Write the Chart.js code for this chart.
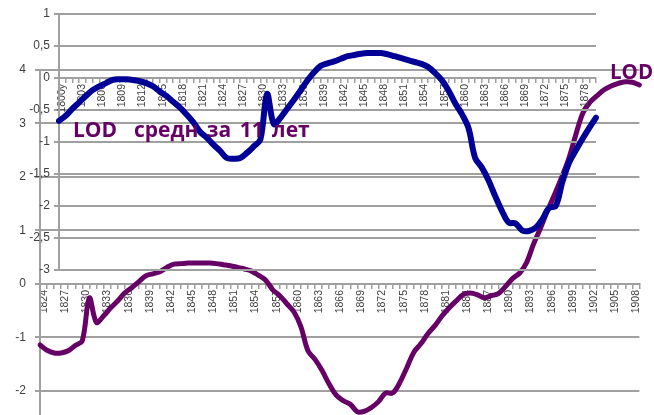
<!DOCTYPE html>
<html>
<head>
<meta charset="utf-8">
<script src="https://cdn.jsdelivr.net/npm/chart.js@4.4.0/dist/chart.umd.min.js"></script>
<style>
html, body { margin: 0; padding: 0; width: 654px; height: 415px; overflow: hidden; background: #fff; }
.layer { position: absolute; left: 0; top: 0; }
.lbl { position: absolute; font-family: "Open Sans", sans-serif; font-weight: bold; color: #660066; white-space: pre; }
</style>
</head>
<body>
<div class="layer"><canvas id="lodChart" width="654" height="415"></canvas></div>
<div class="layer"><canvas id="blueChart" width="654" height="300"></canvas></div>
<div class="lbl" style="left:73px;top:119px;font-size:21px;line-height:21px;word-spacing:3px">LOD  средн за 11 лет</div>
<div class="lbl" style="left:610px;top:61px;font-size:20.5px;line-height:20px">LOD</div>
<script>
// blue series, 1800..1880
const startA = 1800;
const firstLabelA = '1800у';
const valuesA = [
	-0.67, -0.59, -0.48, -0.38, -0.28, -0.19, -0.13, -0.08, -0.03, -0.02,
	-0.02, -0.03, -0.05, -0.08, -0.13, -0.21, -0.28, -0.37, -0.46, -0.57,
	-0.69, -0.84, -0.93, -1.04, -1.14, -1.25, -1.26, -1.25, -1.17, -1.07,
	-0.96, -0.25, -0.72, -0.62, -0.48, -0.34, -0.19, -0.04, 0.09, 0.19,
	0.23, 0.26, 0.30, 0.34, 0.36, 0.38, 0.39, 0.39, 0.39, 0.37,
	0.34, 0.31, 0.28, 0.25, 0.22, 0.17, 0.08, -0.03, -0.19, -0.39,
	-0.56, -0.78, -1.25, -1.40, -1.60, -1.85, -2.08, -2.26, -2.27, -2.38,
	-2.39, -2.34, -2.21, -2.03, -2.00, -1.62, -1.32, -1.13, -0.95, -0.78,
	-0.62
];
const yearsA = valuesA.map((v, i) => startA + i);

// LOD, 11-year mean, 1824..1909 (cut at the right edge)
const startB = 1824;
const valuesB = [
	-1.14, -1.24, -1.29, -1.29, -1.25, -1.15, -1.06, -0.26, -0.72, -0.60,
	-0.45, -0.32, -0.17, -0.07, 0.04, 0.15, 0.19, 0.23, 0.31, 0.37,
	0.38, 0.39, 0.39, 0.39, 0.39, 0.38, 0.36, 0.34, 0.31, 0.28,
	0.24, 0.16, 0.07, -0.11, -0.22, -0.37, -0.52, -0.80, -1.25, -1.41,
	-1.62, -1.87, -2.08, -2.18, -2.25, -2.39, -2.38, -2.31, -2.20, -2.04,
	-2.04, -1.85, -1.57, -1.28, -1.12, -0.93, -0.78, -0.60, -0.45, -0.32,
	-0.20, -0.17, -0.20, -0.26, -0.22, -0.18, -0.05, 0.10, 0.20, 0.40,
	0.75, 1.05, 1.38, 1.68, 2.00, 2.35, 2.80, 3.20, 3.40, 3.52,
	3.63, 3.70, 3.75, 3.78, 3.77, 3.72
];
const yearsB = valuesB.map((v, i) => startB + i);

const gridGray = '#a0a0a0';
const textGray = '#404040';

function xAxis(years, first, firstLabel, shift) {
	return {
		type: 'category',
		position: { y: 0 },
		offset: false,
		grid: { drawOnChartArea: false, drawTicks: true, tickLength: 4, color: gridGray, lineWidth: 1.5, offset: false },
		border: { color: gridGray, width: 2 },
		ticks: {
			autoSkip: false, minRotation: 90, maxRotation: 90, padding: 2, labelOffset: shift,
			color: textGray, font: { family: 'Liberation Sans', size: 10.5 },
			callback: function(val, idx) {
				const y = years[idx];
				if ((y - first) % 3) return '';
				return (idx === 0 && firstLabel) ? firstLabel : String(y);
			}
		}
	};
}

function yAxis(min, max, step, width, pad) {
	return {
		min: min, max: max,
		afterFit: (s) => { s.width = width; s.paddingTop = 0; s.paddingBottom = 0; },
		grid: { display: true, drawOnChartArea: true, drawTicks: true, color: gridGray, lineWidth: 2, tickLength: 5 },
		border: { color: gridGray, width: 2 },
		ticks: {
			stepSize: step, padding: pad, includeBounds: false,
			color: textGray, font: { family: 'Liberation Sans', size: 12 },
			callback: (v) => String(v).replace('.', ',')
		}
	};
}

new Chart(document.getElementById('lodChart').getContext('2d'), {
	type: 'line',
	data: {
		labels: yearsB,
		datasets: [{
			data: valuesB,
			borderColor: '#660066',
			borderWidth: 5,
			pointRadius: 0,
			tension: 0.35,
			borderCapStyle: 'round',
			borderJoinStyle: 'round'
		}]
	},
	options: {
		responsive: false,
		animation: false,
		layout: { padding: { left: 0, top: 70, right: 0, bottom: 0 } },
		plugins: { legend: { display: false }, tooltip: { enabled: false } },
		scales: {
			x: xAxis(yearsB, startB, null, 4),
			y: yAxis(-2.45, 4, 1, 40, 9)
		}
	}
});

new Chart(document.getElementById('blueChart').getContext('2d'), {
	type: 'line',
	data: {
		labels: yearsA,
		datasets: [{
			data: valuesA,
			borderColor: '#000096',
			borderWidth: 6,
			pointRadius: 0,
			tension: 0.35,
			borderCapStyle: 'round',
			borderJoinStyle: 'round'
		}]
	},
	options: {
		responsive: false,
		animation: false,
		layout: { padding: { left: 0, top: 14, right: 58, bottom: 30 } },
		plugins: { legend: { display: false }, tooltip: { enabled: false } },
		scales: {
			x: xAxis(yearsA, startA, firstLabelA, 3),
			y: yAxis(-3, 1, 0.5, 59, 4)
		}
	}
});
</script>
</body>
</html>
